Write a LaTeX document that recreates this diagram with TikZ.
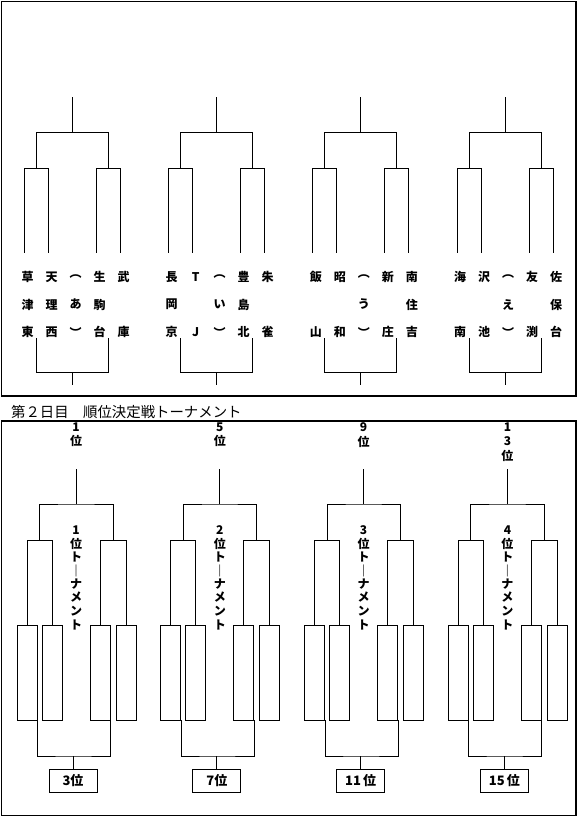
\documentclass[tikz,border=0pt]{standalone}
\usepackage{fontspec}
\setmainfont{Noto Sans CJK JP}
\tikzset{
  frame/.style={line width=1.3pt},
  bline/.style={line width=0.9pt},
  team/.style={font=\bfseries\fontsize{12}{12}\selectfont, inner sep=0pt},
  rank/.style={align=center, anchor=north, inner sep=0pt, font=\bfseries\fontsize{12}{14.5}\selectfont},
  slot/.style={draw, line width=0.9pt, minimum width=20pt, minimum height=95pt, inner sep=0pt},
  result/.style={draw, line width=0.9pt, minimum width=48pt, minimum height=23pt, inner sep=0pt, font=\bfseries\fontsize{13}{13}\selectfont},
}
\begin{document}
\begin{tikzpicture}[x=1pt,y=-1pt]
\useasboundingbox (0,0) rectangle (577,817);
% first day brackets
\draw[frame] (1.5,1.5) rectangle (576,396);
\foreach \g/\cols in {0/{{草,津,東},{天,理,西},{︵,あ,︶},{生,駒,台},{武,{},庫}},
                      1/{{長,岡,京},{T,{},J},{︵,い,︶},{豊,島,北},{朱,{},雀}},
                      2/{{飯,{},山},{昭,{},和},{︵,う,︶},{新,{},庄},{南,住,吉}},
                      3/{{海,{},南},{沢,{},池},{︵,え,︶},{友,{},渕},{佐,保,台}}} {
  \pgfmathsetmacro\s{72.5+144.2*\g}
  \coordinate (w\g) at (\s,97);
  \coordinate (f\g) at (\s,132.3);
  \coordinate (fl\g) at (\s-36,168.3);
  \coordinate (fr\g) at (\s+36,168.3);
  \foreach \k/\dx in {1/-48,2/-24,3/24,4/48}
    \coordinate (a\g-\k) at (\s+\dx,252.7);
  \draw[bline] (w\g) -- (f\g);
  \draw[bline] (fl\g) |- (f\g) -| (fr\g);
  \draw[bline] (a\g-1) |- (fl\g) -| (a\g-2);
  \draw[bline] (a\g-3) |- (fr\g) -| (a\g-4);
  % team names
  \foreach \col [count=\k] in \cols
    \foreach \ch [count=\r] in \col
      \node[team] (n\g-\k-\r) at (\s-69+24*\k,249.5+27.5*\r) {\ch};
  % lower bracket
  \coordinate (c\g) at (\s,372.7);
  \coordinate (cl\g) at (\s-36,338.3);
  \coordinate (cr\g) at (\s+36,338.3);
  \draw[bline] (cl\g) |- (c\g) -| (cr\g);
  \draw[bline] (c\g) -- ++(0,12.3);
}
% second day
\node[anchor=west, inner sep=0pt, font=\fontsize{14.4}{14.4}\selectfont] (title) at (11,412) {第２日目　順位決定戦トーナメント};
\draw[frame] (1.5,421) rectangle (576,815.5);
\foreach \rk/\res [count=\n] in {{1\\位}/3位, {5\\位}/7位, {9\\位}/11\,位, {1\\3\\位}/15\,位} {
  \pgfmathsetmacro\s{76+143.8*(\n-1)}
  \node[rank] (rk\n) at (\s,422.5) {\rk};
  % vertical caption
  \foreach \ch [count=\r] in {\n,位,ト,｜,ナ,メ,ン,ト}
    \node[team] (v\n-\r) at (\s,516.5+13.5*\r) {\ch};
  \foreach \k/\dx in {1/-49,2/-24,3/24,4/50}
    \node[slot] (b\n-\k) at (\s+\dx,672.5) {};
  \coordinate (w\n) at (\s,469);
  \coordinate (f\n) at (\s,504);
  \coordinate (fl\n) at (\s-36.5,540.7);
  \coordinate (fr\n) at (\s+37,540.7);
  \draw[bline] (w\n) -- (f\n);
  \draw[bline] (fl\n) |- (f\n) -| (fr\n);
  \draw[bline] (b\n-1.north) |- (fl\n) -| (b\n-2.north);
  \draw[bline] (b\n-3.north) |- (fr\n) -| (b\n-4.north);
  % third place
  \node[result] (r\n) at (\s-3,781) {\res};
  \coordinate (j\n) at (\s-3,756);
  \draw[bline] (b\n-1.south east) |- (j\n) -| (b\n-3.south east);
  \draw[bline] (j\n) -- (r\n);
}
\end{tikzpicture}
\end{document}
